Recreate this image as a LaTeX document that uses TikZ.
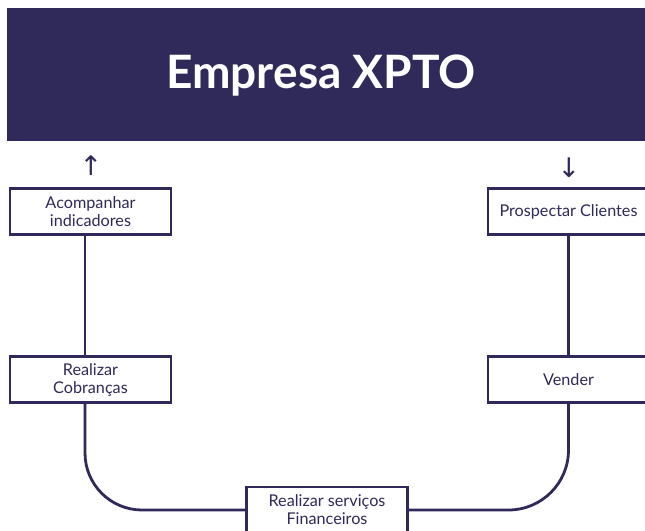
\documentclass[tikz,border=0pt]{standalone}
\usepackage{fontspec}
\setmainfont{Lato}
\newfontfamily\setasfont{DejaVu Sans}
\usetikzlibrary{calc}
\definecolor{marinho}{HTML}{2F2A59}

\tikzset{
caixa/.style={draw=marinho, line width=2.8pt, text=marinho, fill=white,
  minimum width=161pt, minimum height=46pt, inner sep=0pt, align=center,
  font=\fontsize{16.2}{18}\selectfont},
linha/.style={draw=marinho, line width=2.8pt},
seta/.style={text=marinho, inner sep=0pt, font=\setasfont\fontsize{27}{27}\selectfont}
}

\begin{document}
\begin{tikzpicture}[x=1pt,y=-1pt]
\useasboundingbox (0,0) rectangle (645,530);
\node[fill=marinho, minimum width=638pt, minimum height=133pt, inner sep=0pt] (empresa) at (326,74.5) {};
\node[text=white, font=\bfseries\fontsize{46}{46}\selectfont] (titulo) at (321,76) {Empresa XPTO};
\node[seta] (sobe) at (91,166) {↑};
\node[seta] (desce) at (569,168) {↓};

\node[caixa] (indicadores) at (90.5,211.5) {Acompanhar\\indicadores};
\node[caixa] (cobrancas) at (90.5,379.5) {Realizar\\Cobranças};
\node[caixa] (prospectar) at (568.5,211.5) {Prospectar Clientes};
\node[caixa] (vender) at (568.5,379.5) {Vender};
\node[caixa] (servicos) at (327,510) {Realizar serviços\\Financeiros};

\draw[linha] ([xshift=-5.5pt]indicadores.south) -- ([xshift=-5.5pt]cobrancas.north);
\draw[linha, rounded corners=57pt] ([xshift=-5.5pt]cobrancas.south) |- (servicos.west);
\draw[linha] (prospectar.south) -- (vender.north);
\draw[linha, rounded corners=60pt] (servicos.east) -| (vender.south);
\end{tikzpicture}
\end{document}
